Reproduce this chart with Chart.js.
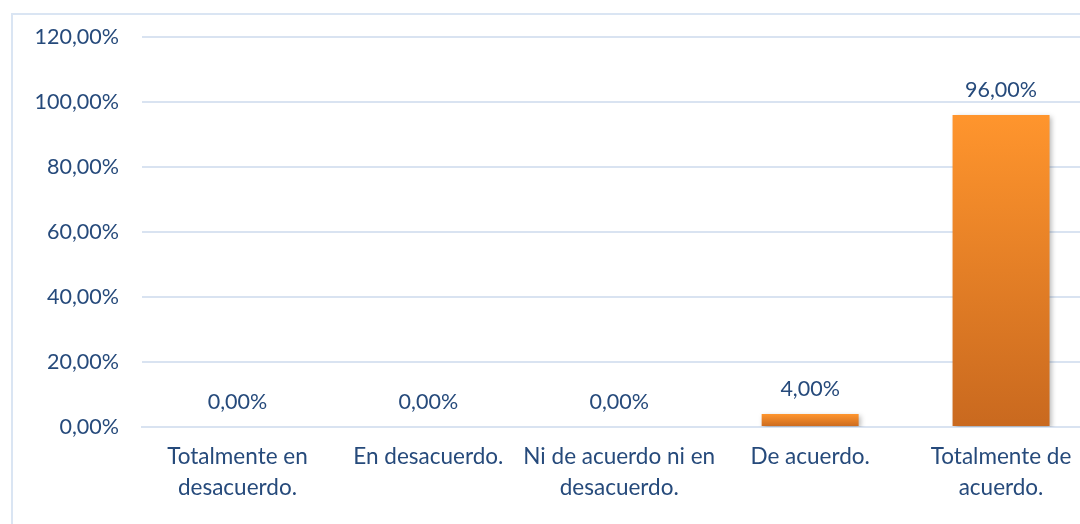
<!DOCTYPE html>
<html><head><meta charset="utf-8">
<script src="https://cdn.jsdelivr.net/npm/chart.js@4/dist/chart.umd.min.js"></script>
<style>
html,body{margin:0;padding:0;background:#fff;overflow:hidden;width:1080px;height:524px;}
#frame{position:absolute;left:11px;top:13px;width:1200px;height:600px;border:2px solid #dae5f3;box-sizing:border-box;}
#wrap{position:absolute;left:0;top:0;width:1110px;height:524px;}
</style></head>
<body>
<div id="frame"></div>
<div id="wrap"><canvas id="c" width="1110" height="524"></canvas></div>
<script>
const categories = [["Totalmente en","desacuerdo."],"En desacuerdo.",["Ni de acuerdo ni en","desacuerdo."],"De acuerdo.",["Totalmente de","acuerdo."]];
const values = [0, 0, 0, 4, 96];
const yMin = 0, yMax = 120, yStep = 20;

const FONT = "Lato, 'Open Sans', sans-serif";
const TXT = "#264a7b";
const fmt = v => v.toFixed(2).replace('.', ',') + '%';

function barFill(ctx){
  const chart = ctx.chart;
  const y = chart.scales && chart.scales.y;
  if (!chart.chartArea || !y) return '#f28c2a';
  const v = ctx.raw;
  const top = y.getPixelForValue(v), bot = y.getPixelForValue(0);
  if (!(bot - top > 0.5)) return '#f28c2a';
  const g = chart.ctx.createLinearGradient(0, top, 0, bot);
  g.addColorStop(0, '#ff952d');
  g.addColorStop(1, '#c9691f');
  return g;
}

const shadowPlugin = {
  id:'shadow',
  beforeDatasetsDraw(chart){ const c=chart.ctx; c.save(); c.shadowColor='rgba(0,0,0,0.28)'; c.shadowBlur=5; c.shadowOffsetX=2; c.shadowOffsetY=2; },
  afterDatasetsDraw(chart){ chart.ctx.restore(); }
};
const labelPlugin = {
  id:'vlabels',
  afterDatasetsDraw(chart){
    const c = chart.ctx, meta = chart.getDatasetMeta(0);
    c.save();
    c.font = "21.5px " + FONT; c.fillStyle = TXT; c.textAlign='center'; c.textBaseline='middle';
    meta.data.forEach((el,i)=>{ c.fillText(fmt(values[i]), el.x, el.y - 25); });
    c.restore();
  }
};

new Chart(document.getElementById('c'), {
  type:'bar',
  data:{ labels: categories, datasets:[{ data: values, backgroundColor: barFill, barPercentage:0.508, categoryPercentage:1, borderWidth:0 }]},
  options:{
    responsive:false, animation:false,
    layout:{ padding:{ left:0, top:37, right:13.5, bottom:0 } },
    plugins:{ legend:{display:false}, tooltip:{enabled:false} },
    scales:{
      y:{ min:yMin, max:yMax, ticks:{ stepSize:yStep, padding:23, color:TXT, font:{family:FONT, size:21.5}, callback:v=>fmt(v) },
          grid:{ color:'#d9e3f1', lineWidth:2, drawTicks:false }, border:{display:false},
          afterFit(s){ s.width = 142; } },
      x:{ ticks:{ padding:14, color:TXT, font:{family:FONT, size:22.5, lineHeight:1.38}, maxRotation:0, autoSkip:false },
          grid:{ display:false, drawTicks:false }, border:{ display:true, color:'#d9e3f1', width:2 },
          afterFit(s){ s.height = 97; } }
    }
  },
  plugins:[shadowPlugin, labelPlugin]
});
</script>
</body></html>
